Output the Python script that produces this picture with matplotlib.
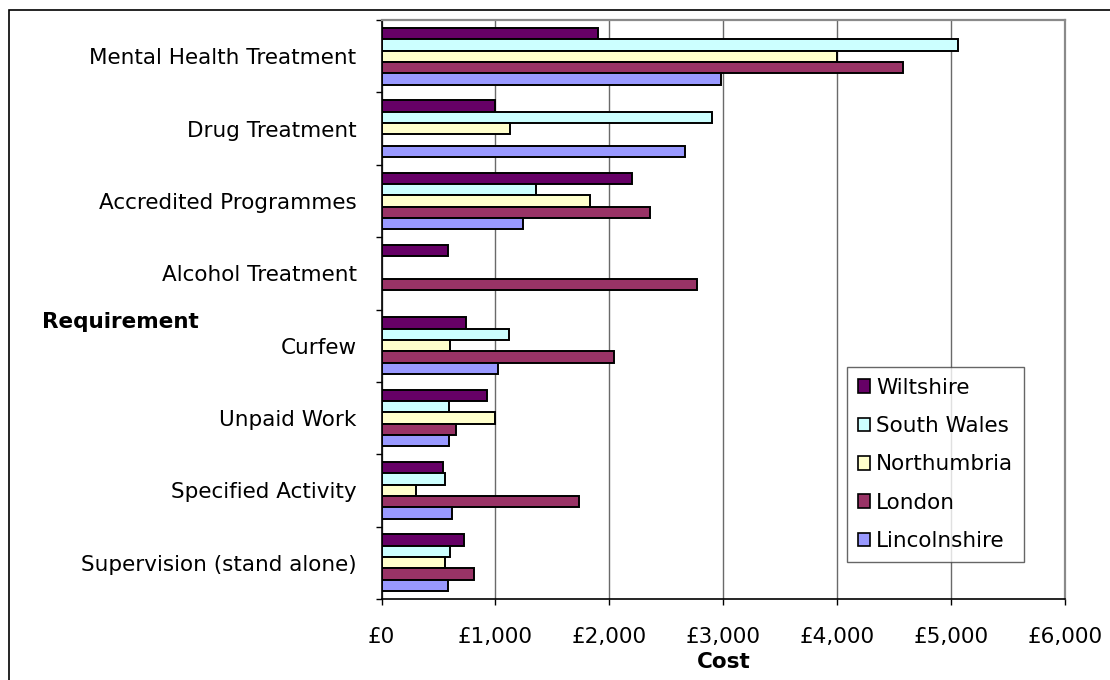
import numpy as np
import matplotlib
matplotlib.use("Agg")
import matplotlib.pyplot as plt
from matplotlib.patches import Rectangle
from matplotlib.ticker import FuncFormatter

# Requirement categories, listed top to bottom
categories = [
    "Mental Health Treatment",
    "Drug Treatment",
    "Accredited Programmes",
    "Alcohol Treatment",
    "Curfew",
    "Unpaid Work",
    "Specified Activity",
    "Supervision (stand alone)",
]

# Cost per requirement (£) for each area; nan = no figure available
wiltshire = [1900, 1000, 2200, 580, 740, 930, 540, 720]
south_wales = [5060, 2900, 1360, np.nan, 1120, 590, 560, 600]
northumbria = [4000, 1130, 1830, np.nan, 600, 1000, 300, 560]
london = [4580, np.nan, 2360, 2770, 2040, 650, 1730, 810]
lincolnshire = [2980, 2660, 1240, np.nan, 1020, 590, 620, 580]

series_names = ["Wiltshire", "South Wales", "Northumbria", "London", "Lincolnshire"]
series_values = [wiltshire, south_wales, northumbria, london, lincolnshire]
series_colors = ["#660066", "#CCFFFF", "#FFFFCC", "#993366", "#9999FF"]

x_ticks = [0, 1000, 2000, 3000, 4000, 5000, 6000]

FS = 15.5
plt.rcParams["font.family"] = ["DejaVu Sans"]

W, H = 1110, 680
fig = plt.figure(figsize=(W / 100, H / 100), dpi=100)
fig.patch.set_facecolor("white")

# outer chart frame (open to the right and bottom)
fig.patches.append(Rectangle((8.5 / W, -0.1), 1.2, (H - 10) / H + 0.1,
                             transform=fig.transFigure, fill=False,
                             edgecolor="black", lw=1.2, zorder=0))

left, right, top, bottom = 381.5, 1065, 20, 599
ax = fig.add_axes([left / W, 1 - bottom / H, (right - left) / W, (bottom - top) / H])

n_cat = len(categories)
n_ser = len(series_names)
bar_h = 0.157
centers = np.arange(n_cat)  # 0 is top row after inverting

for j, (name, vals, col) in enumerate(zip(series_names, series_values, series_colors)):
    vals = np.asarray(vals, dtype=float)
    offs = (j - (n_ser - 1) / 2) * bar_h
    mask = ~np.isnan(vals)
    ax.barh(centers[mask] + offs, vals[mask], height=bar_h, color=col,
            edgecolor="black", linewidth=1.4, label=name, zorder=3)

ax.set_ylim(n_cat - 0.5, -0.5)
ax.set_xlim(0, 6000)

# vertical gridlines
ax.set_xticks(x_ticks)
ax.xaxis.set_major_formatter(FuncFormatter(lambda v, p: "£{:,.0f}".format(v)))
ax.grid(axis="x", color="#6a6a6a", lw=1.0, zorder=1)
ax.tick_params(axis="x", direction="out", length=4.5, width=1, color="black",
               labelsize=FS, pad=16)

# category boundary ticks with labels centred between them
ax.set_yticks(np.arange(-0.5, n_cat, 1.0))
ax.set_yticklabels([])
ax.set_yticks(centers, minor=True)
ax.set_yticklabels(categories, minor=True)
ax.tick_params(axis="y", which="major", direction="out", length=4.5, width=1, color="black")
ax.tick_params(axis="y", which="minor", length=0, labelsize=FS, pad=18)

for s in ["left", "bottom"]:
    ax.spines[s].set_color("black")
    ax.spines[s].set_linewidth(1.2)
for s in ["top", "right"]:
    ax.spines[s].set_color("#8a8a8a")
    ax.spines[s].set_linewidth(1.6)

fig.text(120 / W, 1 - 322 / H, "Requirement", fontsize=FS, fontweight="bold",
         ha="center", va="center")
fig.text((left + right) / 2 / W, 1 - 662 / H, "Cost", fontsize=FS, fontweight="bold",
         ha="center", va="center")

leg = ax.legend(loc="upper left", bbox_to_anchor=(847 / W, 1 - 367 / H),
                bbox_transform=fig.transFigure, fontsize=FS, frameon=True,
                fancybox=False, borderaxespad=0, handlelength=0.55, handleheight=0.6,
                handletextpad=0.3, labelspacing=0.85, borderpad=0.5)
leg.get_frame().set_edgecolor("#404040")
leg.get_frame().set_linewidth(1.0)
for h in leg.legend_handles:
    h.set_linewidth(1.2)

fig.savefig("out.png", dpi=100)
